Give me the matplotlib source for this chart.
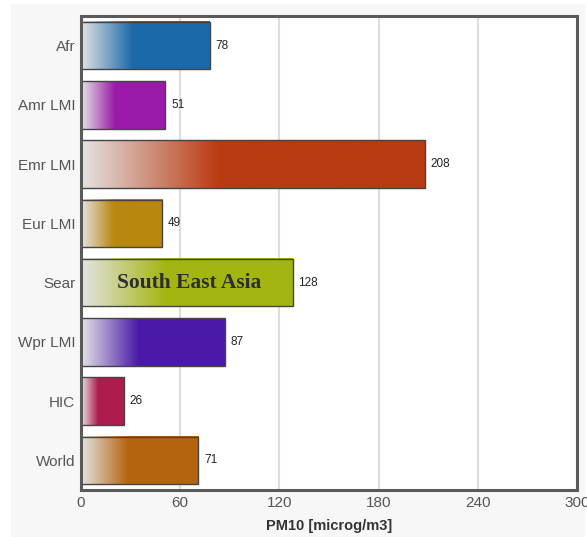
import numpy as np
import matplotlib
matplotlib.use("Agg")
import matplotlib.pyplot as plt
from matplotlib.colors import to_rgb
from matplotlib.patches import Rectangle

# PM10 by region
regions = ["Afr", "Amr LMI", "Emr LMI", "Eur LMI", "Sear", "Wpr LMI", "HIC", "World"]
pm10 = [78, 51, 208, 49, 128, 87, 26, 71]
colors = ["#1c69a9", "#9a1aa9", "#b93b12", "#b9870f", "#a3b511",
          "#4b19a9", "#ae1c4e", "#b4640f"]
xticks = [0, 60, 120, 180, 240, 300]

fig = plt.figure(figsize=(5.87, 5.37), dpi=100, facecolor="white")
fig.patches.append(Rectangle((11 / 587, 0), 574 / 587, 533 / 537,
                             transform=fig.transFigure, facecolor="#f7f7f7",
                             edgecolor="none", zorder=-10))
ax = fig.add_axes([81 / 587, 47 / 537, 496 / 587, 474 / 537])
ax.set_facecolor("white")

bar_h = 0.8
start = np.array(to_rgb("#e4e4e4"))
n = 300
for i, (v, c) in enumerate(zip(pm10, colors)):
    t = np.linspace(0, 1, n)
    frac = np.clip(t / 0.40, 0, 1)
    col = np.array(to_rgb(c))
    grad = start[None, :] * (1 - frac[:, None]) + col[None, :] * frac[:, None]
    ax.imshow(grad[None, :, :], extent=[0, v, i + bar_h / 2, i - bar_h / 2],
              aspect="auto", interpolation="bilinear", zorder=2)
    ax.add_patch(Rectangle((0, i - bar_h / 2), v, bar_h, fill=False,
                           edgecolor="#444444", linewidth=1.0, zorder=3))
    ax.text(v + 3.5, i, str(v), va="center", ha="left", fontsize=8.5,
            color="#222222", family="Liberation Sans", zorder=4)

ax.text(pm10[4] / 2 + 1.5, 4, "South East Asia", ha="center", va="center",
        fontsize=15.5, fontweight="bold", family="Liberation Serif",
        color="#2e2e2e", zorder=4)

ax.set_xlim(0, 300)
ax.set_ylim(7.5, -0.5)
ax.set_xticks(xticks)
ax.set_yticks(range(len(regions)))
ax.set_yticklabels(regions)
for lbl in ax.get_xticklabels() + ax.get_yticklabels():
    lbl.set_family("Liberation Sans")
    lbl.set_fontsize(11)
    lbl.set_color("#555555")
ax.tick_params(axis="both", length=0)
ax.tick_params(axis="x", pad=4)
ax.tick_params(axis="y", pad=4)
for x in xticks[1:-1]:
    ax.axvline(x, color="#dddddd", linewidth=1.5, zorder=1)
for sp in ax.spines.values():
    sp.set_color("#5a5a5a")
    sp.set_linewidth(2.2)
    sp.set_zorder(5)

ax.set_xlabel("PM10 [microg/m3]", fontsize=10.5, fontweight="bold",
              family="Liberation Sans", color="#333333", labelpad=7)

fig.savefig("out.png", dpi=100, facecolor=fig.get_facecolor())
